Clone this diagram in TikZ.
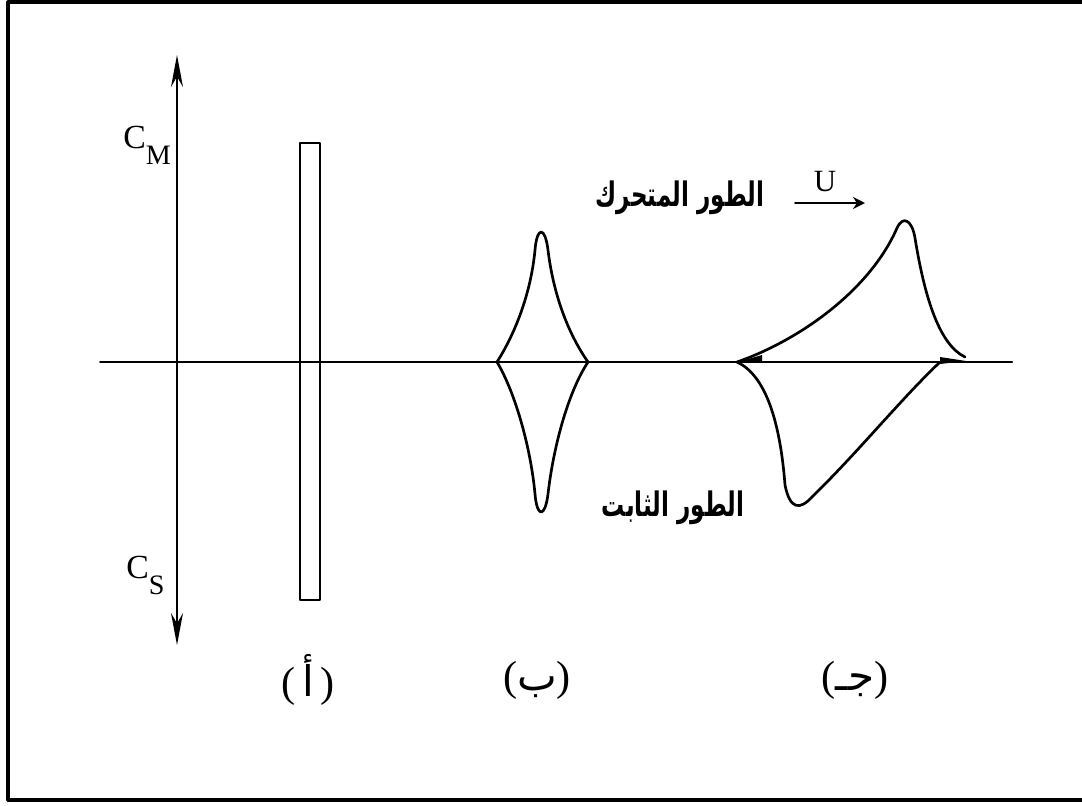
\documentclass[tikz,border=0pt]{standalone}
\usepackage{fontspec}
\usepackage{graphicx}
\setmainfont{Liberation Serif}
\newfontfamily\arabicfont[Script=Arabic]{DejaVu Sans}
\TeXXeTstate=1
\usetikzlibrary{arrows.meta}

\begin{document}
\begin{tikzpicture}[x=0.025cm, y=-0.025cm, line cap=round, line join=round, >={Stealth[length=0.8cm,width=0.3cm]}]
	\tikzset{phase/.style={line width=1.9pt},
		thin line/.style={line width=1.4pt},
		lbl/.style={font=\fontsize{24}{28}\selectfont, inner sep=0pt},
		tag/.style={font=\fontsize{30}{34}\selectfont, inner sep=0pt},
		artxt/.style={font=\fontsize{20}{24}\selectfont\arabicfont\bfseries, inner sep=0pt}}
	\useasboundingbox (0,0) rectangle (1082,805);
	\draw[line width=2.2pt, line cap=butt] (1082,2) -- (8,2) -- (8,800) -- (1082,800);
	% axes
	\draw[thin line] (100,362) -- (1012,362);
	\draw[thin line, <->] (177,645) -- (177,55);
	\node[lbl, anchor=base west] (cm) at (123,148) {C\raisebox{-0.5em}{\fontsize{20}{20}\selectfont M}};
	\node[lbl, anchor=base west] (cs) at (126,578) {C\raisebox{-0.5em}{\fontsize{20}{20}\selectfont S}};
	% (a)
	\draw[thin line] (300,143) rectangle (320,600);
	\node[tag] (ta) at (308,680) {(\,{\arabicfont أ}\,)};
	% (b)
	\draw[phase] (497,362) .. controls (516,332) and (531,292) .. (535,250)
		.. controls (537,226) and (545,226) .. (548,250)
		.. controls (553,292) and (567,332) .. (588,362);
	\draw[phase] (497,362) .. controls (516,394) and (531,450) .. (535,494)
		.. controls (537,518) and (545,518) .. (548,494)
		.. controls (553,450) and (567,394) .. (588,362);
	\node[tag] (tb) at (537,680) {({\arabicfont ب})};
	% (c)
	\draw[phase] (737,362) .. controls (800,340) and (870,290) .. (897,228)
		.. controls (903,215) and (912,220) .. (915,238)
		.. controls (925,300) and (940,345) .. (965,357);
	\draw[phase] (737,362) .. controls (765,375) and (780,420) .. (785,485)
		.. controls (790,510) and (800,510) .. (812,497)
		.. controls (860,450) and (900,400) .. (940,362);
	\fill (738,362) -- (762,355) -- (762,363) -- cycle;
	\fill (966,361) -- (940,357) -- (940,364) -- cycle;
	\node[tag] (tc) at (855,680) {({\arabicfont جـ})};
	% phases
	\node[artxt] (mobile) at (680,198) {\scalebox{0.82}[1.2]{\beginR الطور المتحرك\endR}};
	\node[artxt] (still) at (673,508) {\scalebox{0.82}[1.2]{\beginR الطور الثابت\endR}};
	\coordinate (u0) at (795,203);
	\coordinate (u1) at (865,203);
	\draw[line width=1.4pt, -{Stealth[length=0.3cm,width=0.3cm]}] (u0) -- (u1);
	\node[lbl, font=\fontsize{22}{24}\selectfont] (u) at (825,182) {U};
\end{tikzpicture}
\end{document}
